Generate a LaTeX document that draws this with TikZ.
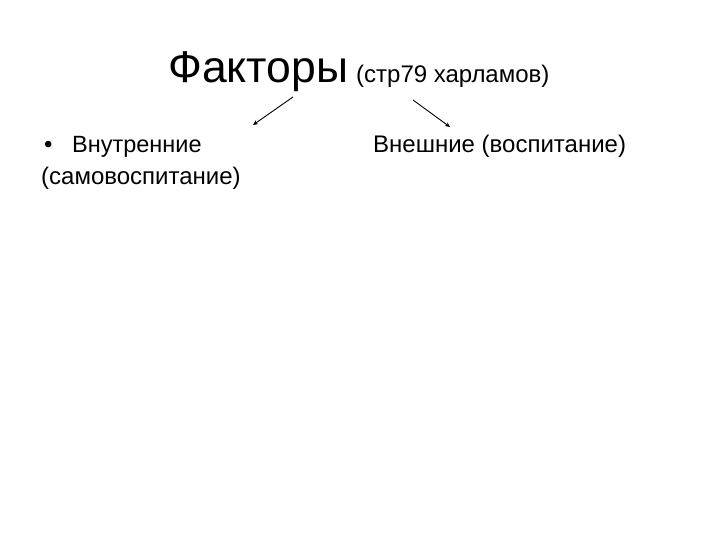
\documentclass[tikz,border=0pt]{standalone}
\usepackage{fontspec}
\setmainfont{Liberation Sans}
\usetikzlibrary{arrows.meta}
\begin{document}
\begin{tikzpicture}[x=1pt,y=1pt,
  bodytext/.style={anchor=base west, inner sep=0pt, font=\fontsize{24}{28}\selectfont},
  arr/.style={-{Stealth[length=5pt,width=4.5pt]}, line width=0.9pt}]
\useasboundingbox (0,0) rectangle (720,540);
\node[anchor=base west, inner sep=0pt, font=\fontsize{44.5}{52}\selectfont] (title) at (168,457) {Факторы};
\node[anchor=base west, inner sep=0pt, font=\fontsize{24}{28}\selectfont] (sub) at (356,457) {(стр79 харламов)};
\node[bodytext] (bul) at (44,387) {•};
\node[bodytext, font=\fontsize{23.5}{28}\selectfont] (inner) at (72,387) {Внутренние};
\node[bodytext] (inner2) at (41,355) {(самовоспитание)};
\node[bodytext] (outer) at (373,387) {Внешние (воспитание)};
\coordinate (l1) at (293,443);
\coordinate (l2) at (253,415);
\coordinate (r1) at (413,440);
\coordinate (r2) at (450,413);
\draw[arr] (l1) -- (l2);
\draw[arr] (r1) -- (r2);
\end{tikzpicture}
\end{document}
